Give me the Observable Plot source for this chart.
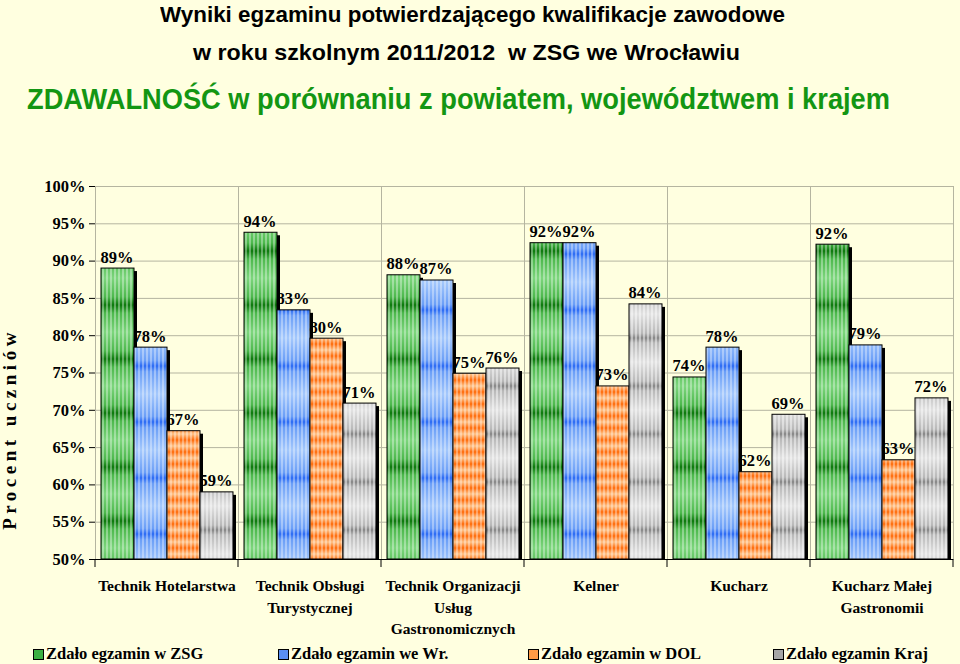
<!DOCTYPE html>
<html><head><meta charset="utf-8">
<script src="https://cdn.jsdelivr.net/npm/d3@7"></script>
<script src="https://cdn.jsdelivr.net/npm/@observablehq/plot@0.6"></script>
<style>
html,body{margin:0;padding:0}
body{background:#FFFFE0;width:960px;height:664px;overflow:hidden;position:relative;font-family:"Liberation Serif","Times New Roman",serif}
.t{position:absolute;white-space:nowrap;line-height:1;font-family:"Liberation Sans",Arial,sans-serif;font-weight:bold;transform-origin:0 0}
#t1{top:4px;font-size:22px;color:#000}
#t2{top:42px;font-size:22px;color:#000}
#t3{top:85px;font-size:29px;color:#139613}
#ytitle{position:absolute;left:10px;top:429px;transform:translate(-50%,-50%) rotate(-90deg);font:bold 19px "Liberation Serif",serif;letter-spacing:4.5px;white-space:nowrap}
#chart{position:absolute;left:0;top:170px}
#legend{position:absolute;top:644px;left:0;width:960px;height:20px}
.li{position:absolute;top:0;font:bold 16.5px "Liberation Serif",serif;white-space:nowrap;line-height:20px}
.sw{display:inline-block;width:9px;height:9px;border:1px solid #000;margin-right:2px;vertical-align:-1px}
</style>
</head><body>
<div class="t" id="t1" data-x="160" data-w="625">Wyniki egzaminu potwierdzającego kwalifikacje zawodowe</div>
<div class="t" id="t2" data-x="193" data-w="547">w roku szkolnym 2011/2012&nbsp; w ZSG we Wrocławiu</div>
<div class="t" id="t3" data-x="27" data-w="863">ZDAWALNOŚĆ w porównaniu z powiatem, województwem i krajem</div>
<div id="ytitle">Procent uczniów</div>
<svg width="0" height="0" style="position:absolute">
<defs>
<linearGradient id="g0" x1="0" y1="0" x2="0" y2="1"><stop offset="0" stop-color="#7dd67d"/><stop offset="0.35" stop-color="#4cb84c"/><stop offset="0.5" stop-color="#0b780b"/><stop offset="0.65" stop-color="#4cb84c"/><stop offset="1" stop-color="#7dd67d"/></linearGradient>
<linearGradient id="g1" x1="0" y1="0" x2="0" y2="1"><stop offset="0" stop-color="#a4c8fc"/><stop offset="0.4" stop-color="#6a9ef7"/><stop offset="0.5" stop-color="#2a6af4"/><stop offset="0.6" stop-color="#6a9ef7"/><stop offset="1" stop-color="#a4c8fc"/></linearGradient>
<linearGradient id="g2" x1="0" y1="0" x2="0" y2="1"><stop offset="0" stop-color="#ffc48a"/><stop offset="0.5" stop-color="#ff6a08"/><stop offset="1" stop-color="#ffc48a"/></linearGradient>
<linearGradient id="g3" x1="0" y1="0" x2="0" y2="1"><stop offset="0" stop-color="#e2e2e2"/><stop offset="0.4" stop-color="#b8b8b8"/><stop offset="0.5" stop-color="#858585"/><stop offset="0.6" stop-color="#b8b8b8"/><stop offset="1" stop-color="#e2e2e2"/></linearGradient>
<pattern id="p0" patternUnits="userSpaceOnUse" width="4" height="54"><rect width="4" height="54" fill="url(#g0)"/><rect x="0" width="2" height="54" fill="#fff" fill-opacity="0.35"/></pattern>
<pattern id="p1" patternUnits="userSpaceOnUse" width="4" height="56"><rect width="4" height="56" fill="url(#g1)"/><rect x="0" width="2" height="56" fill="#fff" fill-opacity="0.35"/></pattern>
<pattern id="p2" patternUnits="userSpaceOnUse" width="4" height="12"><rect width="4" height="12" fill="url(#g2)"/><rect x="0" width="2" height="12" fill="#fff" fill-opacity="0.35"/></pattern>
<pattern id="p3" patternUnits="userSpaceOnUse" width="4" height="48"><rect width="4" height="48" fill="url(#g3)"/><rect x="0" width="2" height="48" fill="#fff" fill-opacity="0.45"/></pattern>
</defs></svg>
<div id="chart"></div>
<div id="legend"></div>
<script>
const categories = ["Technik Hotelarstwa", "Technik Obsługi Turystycznej", "Technik Organizacji Usług Gastronomicznych", "Kelner", "Kucharz", "Kucharz Małej Gastronomii"];
const categoryLabels = ["Technik Hotelarstwa", "Technik Obsługi\nTurystycznej", "Technik Organizacji\nUsług\nGastronomicznych", "Kelner", "Kucharz", "Kucharz Małej\nGastronomii"];
const series = ["Zdało egzamin w ZSG", "Zdało egzamin we Wr.", "Zdało egzamin w DOL", "Zdało egzamin Kraj"];
const zsg  = [89.0, 93.8, 88.1, 92.4, 74.4, 92.2];
const wr   = [78.4, 83.4, 87.4, 92.4, 78.4, 78.7];
const dol  = [67.2, 79.6, 74.9, 73.2, 61.7, 63.3];
const kraj = [59.0, 70.9, 75.6, 84.2, 69.4, 71.6];
const yTicks = [50, 55, 60, 65, 70, 75, 80, 85, 90, 95, 100];
const patternFills = ["url(#p0)", "url(#p1)", "url(#p2)", "url(#p3)"];
const legendColors = ["#3cb043", "#5a8ff2", "#ff9a45", "#a6a6a6"];
const legendX = [33, 278, 528, 773];

// fit title lines to the reference widths
document.querySelectorAll(".t").forEach(el => {
  const w = el.getBoundingClientRect().width;
  el.style.left = el.dataset.x + "px";
  el.style.transform = `scaleX(${(+el.dataset.w) / w})`;
});

const valuesBySeries = [zsg, wr, dol, kraj];
const data = [];
categories.forEach((c, i) => series.forEach((s, j) => data.push({cat: c, series: s, value: valuesBySeries[j][i]})));

const plot = Plot.plot({
  width: 960, height: 470,
  marginTop: 16, marginBottom: 81, marginLeft: 93, marginRight: 6,
  style: {background: "transparent", fontFamily: "'Liberation Serif', 'Times New Roman', serif", fontSize: "16.5px", fontWeight: "bold", color: "#000"},
  fx: {domain: categories, paddingInner: 0, paddingOuter: 0, axis: null, label: null},
  x: {domain: series, paddingInner: 0, paddingOuter: 0.11, axis: null},
  y: {domain: [50, 100], ticks: yTicks, tickFormat: d => d + "%", tickSize: 6, tickPadding: 4, line: true, label: null},
  color: {domain: series, range: patternFills},
  marks: [
    Plot.gridY(yTicks, {stroke: "#b5b5a0", strokeOpacity: 1}),
    Plot.frame({stroke: "#b5b5a0"}),
    Plot.barY(data, {fx: "cat", x: "series", y1: 50, y2: "value", fill: "black", dx: 3, dy: 3, clip: true}),
    Plot.barY(data, {fx: "cat", x: "series", y1: 50, y2: "value", fill: "series", stroke: "black", strokeWidth: 1}),
    Plot.text(data, {fx: "cat", x: "series", y: "value", text: d => Math.round(d.value) + "%", lineAnchor: "bottom", dy: -6, dx: -1, fontSize: 16.5, fontWeight: "bold", fill: "black"}),
    Plot.ruleY([50], {stroke: "black"}),
    Plot.axisFx({anchor: "bottom", tickSize: 0, tickPadding: 16, fontSize: 15.5, fontWeight: "bold", lineHeight: 1.4, label: null, tickFormat: d => categoryLabels[categories.indexOf(d)]})
  ]
});
document.getElementById("chart").appendChild(plot);

// tick marks at group boundaries, from the fx scale
const fxs = plot.scale("fx");
const svg = d3.select(plot);
const yBottom = 470 - 81;
const edges = categories.map(c => fxs.apply(c)).concat([fxs.apply(categories[categories.length - 1]) + fxs.bandwidth]);
svg.append("g").selectAll("line").data(edges).join("line")
  .attr("x1", d => d).attr("x2", d => d).attr("y1", yBottom).attr("y2", yBottom + 8)
  .attr("stroke", "black");

const lg = d3.select("#legend");
series.forEach((s, i) => {
  const item = lg.append("div").attr("class", "li").style("left", legendX[i] + "px");
  item.append("span").attr("class", "sw").style("background", legendColors[i]);
  item.append("span").text(s);
});
</script>
</body></html>
